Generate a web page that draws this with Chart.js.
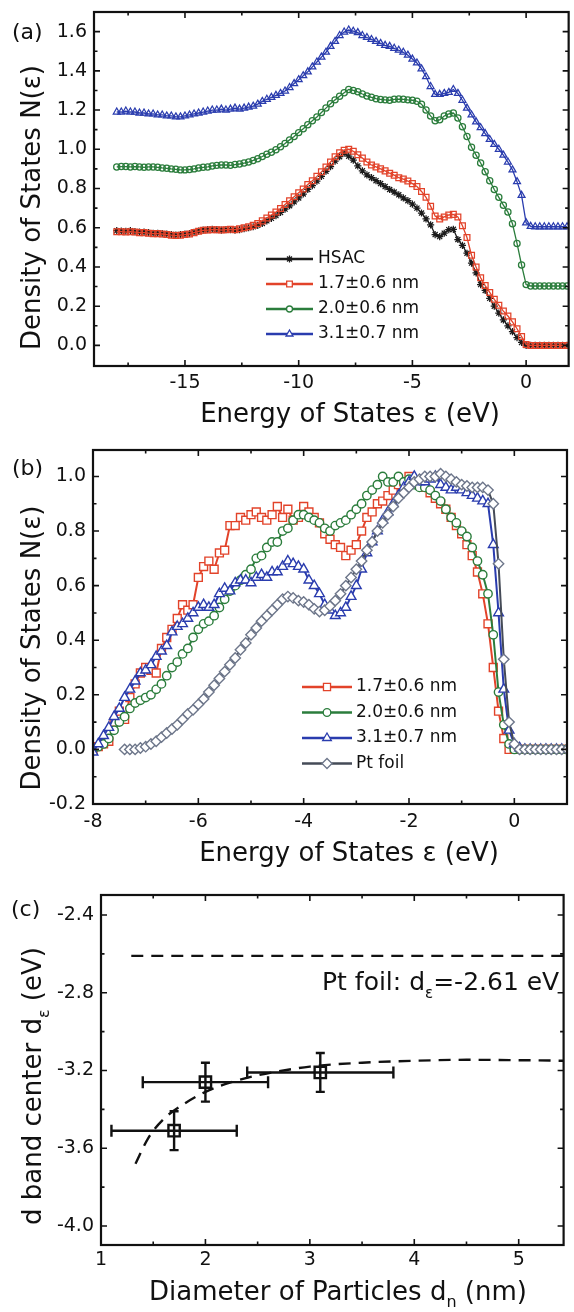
<!DOCTYPE html>
<html>
<head>
<meta charset="utf-8">
<script src="https://cdn.jsdelivr.net/npm/chart.js@4.4.1/dist/chart.umd.min.js"></script>
<style>
  html, body { margin: 0; padding: 0; background: #fff; }
  #wrap { position: relative; width: 574px; height: 1312px; }
  .panel { position: absolute; left: 0; width: 574px; }
  .panel canvas { display: block; }
</style>
</head>
<body>
<div id="wrap">
  <div class="panel" style="top:0;height:440px"><canvas id="chartA"></canvas></div>
  <div class="panel" style="top:440px;height:440px"><canvas id="chartB"></canvas></div>
  <div class="panel" style="top:880px;height:432px"><canvas id="chartC"></canvas></div>
</div>
<script>
// ---- panel (a): normalised d-DOS, curves offset by 0.3 ----
const energyA = [
  -18, -17.8, -17.6, -17.4, -17.2, -17, -16.8, -16.6, -16.4, -16.2,
  -16, -15.8, -15.6, -15.4, -15.2, -15, -14.8, -14.6, -14.4, -14.2,
  -14, -13.8, -13.6, -13.4, -13.2, -13, -12.8, -12.6, -12.4, -12.2,
  -12, -11.8, -11.6, -11.4, -11.2, -11, -10.8, -10.6, -10.4, -10.2,
  -10, -9.8, -9.6, -9.4, -9.2, -9, -8.8, -8.6, -8.4, -8.2,
  -8, -7.8, -7.6, -7.4, -7.2, -7, -6.8, -6.6, -6.4, -6.2,
  -6, -5.8, -5.6, -5.4, -5.2, -5, -4.8, -4.6, -4.4, -4.2,
  -4, -3.8, -3.6, -3.4, -3.2, -3, -2.8, -2.6, -2.4, -2.2,
  -2, -1.8, -1.6, -1.4, -1.2, -1, -0.8, -0.6, -0.4, -0.2,
  0, 0.2, 0.4, 0.6, 0.8, 1, 1.2, 1.4, 1.6, 1.8
];
const hsacA = [
  0.585, 0.583, 0.582, 0.585, 0.58, 0.578, 0.578, 0.575, 0.572, 0.572,
  0.57, 0.568, 0.565, 0.562, 0.565, 0.567, 0.57, 0.577, 0.583, 0.588,
  0.59, 0.592, 0.59, 0.588, 0.59, 0.59, 0.588, 0.59, 0.595, 0.6,
  0.605, 0.612, 0.622, 0.635, 0.648, 0.662, 0.678, 0.695, 0.712, 0.732,
  0.752, 0.772, 0.795, 0.815, 0.838, 0.862, 0.888, 0.912, 0.94, 0.962,
  0.98, 0.965, 0.945, 0.915, 0.89, 0.87, 0.855, 0.84, 0.825, 0.81,
  0.795, 0.782, 0.768, 0.752, 0.738, 0.72, 0.7, 0.675, 0.645, 0.615,
  0.565, 0.555, 0.572, 0.59, 0.592, 0.54, 0.51, 0.47, 0.42, 0.37,
  0.31, 0.28, 0.24, 0.2, 0.165, 0.13, 0.1, 0.07, 0.04, 0.015,
  0, 0, 0, 0, 0, 0, 0, 0, 0, 0
];
const nm17A = [
  0.58, 0.58, 0.578, 0.58, 0.578, 0.575, 0.575, 0.572, 0.57, 0.57,
  0.568, 0.565, 0.562, 0.56, 0.562, 0.565, 0.568, 0.575, 0.582, 0.587,
  0.588, 0.59, 0.59, 0.588, 0.59, 0.592, 0.59, 0.595, 0.6, 0.605,
  0.612, 0.622, 0.635, 0.65, 0.665, 0.68, 0.698, 0.718, 0.738, 0.758,
  0.778, 0.798, 0.82, 0.84, 0.862, 0.885, 0.91, 0.935, 0.962, 0.982,
  0.995, 1.0, 0.99, 0.972, 0.955, 0.935, 0.92, 0.91, 0.9, 0.89,
  0.878, 0.868, 0.855, 0.848, 0.838, 0.825, 0.81, 0.785, 0.755, 0.71,
  0.66, 0.645, 0.655, 0.665, 0.668, 0.655, 0.61, 0.55, 0.46, 0.4,
  0.345, 0.305, 0.27, 0.235, 0.205, 0.175, 0.15, 0.12, 0.085, 0.045,
  0.005, 0, 0, 0, 0, 0, 0, 0, 0, 0
];
const nm20A = [
  0.91, 0.912, 0.912, 0.91, 0.912, 0.91, 0.908, 0.91, 0.91, 0.908,
  0.905, 0.903, 0.9, 0.898, 0.895, 0.895, 0.897, 0.9, 0.905, 0.908,
  0.91, 0.915, 0.918, 0.92, 0.92, 0.918, 0.922, 0.925, 0.93, 0.935,
  0.943, 0.952, 0.963, 0.975, 0.985, 0.998, 1.013, 1.03, 1.048, 1.065,
  1.085, 1.105, 1.125, 1.145, 1.165, 1.188, 1.21, 1.232, 1.252, 1.27,
  1.288, 1.305, 1.3, 1.293, 1.282, 1.272, 1.265, 1.258, 1.254, 1.252,
  1.25, 1.255, 1.256, 1.255, 1.252, 1.25, 1.245, 1.23, 1.2, 1.17,
  1.145, 1.15, 1.17, 1.18, 1.185, 1.16, 1.115, 1.065, 1.01, 0.97,
  0.93, 0.885, 0.84, 0.795, 0.755, 0.715, 0.68, 0.62, 0.52, 0.41,
  0.31, 0.303, 0.303, 0.303, 0.303, 0.303, 0.303, 0.303, 0.303, 0.303
];
const nm31A = [
  1.19, 1.19, 1.195, 1.19, 1.19, 1.185, 1.185, 1.18, 1.18, 1.175,
  1.175, 1.17, 1.17, 1.165, 1.165, 1.17, 1.175, 1.18, 1.185, 1.19,
  1.195, 1.2, 1.2, 1.205, 1.2, 1.205, 1.21, 1.205, 1.21, 1.215,
  1.22, 1.23, 1.244, 1.255, 1.265, 1.275, 1.285, 1.297, 1.315, 1.335,
  1.355, 1.375, 1.395, 1.42, 1.445, 1.47, 1.495, 1.525, 1.55, 1.58,
  1.598, 1.608, 1.602, 1.595, 1.58, 1.57, 1.56, 1.55, 1.54, 1.53,
  1.525, 1.515, 1.505, 1.495, 1.48, 1.46, 1.44, 1.41, 1.37, 1.32,
  1.28, 1.28, 1.285, 1.29, 1.305, 1.285, 1.25, 1.21, 1.175, 1.14,
  1.11, 1.08, 1.05, 1.025, 1.0, 0.97, 0.935, 0.895, 0.835, 0.765,
  0.625, 0.607, 0.605, 0.605, 0.605, 0.605, 0.605, 0.605, 0.605, 0.605
];
const aXMajor = [-15, -10, -5, 0];
const aXMinor = [-17.5, -12.5, -7.5, -2.5];
const aYMajor = [0, 0.2, 0.4, 0.6, 0.8, 1.0, 1.2, 1.4, 1.6];
const aYMinor = [0.1, 0.3, 0.5, 0.7, 0.9, 1.1, 1.3, 1.5];

// ---- panel (b): normalised d-DOS, no offset ----
const energyB = [
  -8, -7.9, -7.8, -7.7, -7.6, -7.5, -7.4, -7.3, -7.2, -7.1,
  -7, -6.9, -6.8, -6.7, -6.6, -6.5, -6.4, -6.3, -6.2, -6.1,
  -6, -5.9, -5.8, -5.7, -5.6, -5.5, -5.4, -5.3, -5.2, -5.1,
  -5, -4.9, -4.8, -4.7, -4.6, -4.5, -4.4, -4.3, -4.2, -4.1,
  -4, -3.9, -3.8, -3.7, -3.6, -3.5, -3.4, -3.3, -3.2, -3.1,
  -3, -2.9, -2.8, -2.7, -2.6, -2.5, -2.4, -2.3, -2.2, -2.1,
  -2, -1.9, -1.8, -1.7, -1.6, -1.5, -1.4, -1.3, -1.2, -1.1,
  -1, -0.9, -0.8, -0.7, -0.6, -0.5, -0.4, -0.3, -0.2, -0.1,
  0, 0.1, 0.2, 0.3, 0.4, 0.5, 0.6, 0.7, 0.8, 0.9, 1
];
const nm17B = [
  0.0, 0.01, 0.02, 0.03, 0.1, 0.14, 0.11, 0.19, 0.24, 0.28,
  0.3, 0.29, 0.28, 0.37, 0.41, 0.44, 0.48, 0.53, 0.51, 0.53,
  0.63, 0.67, 0.69, 0.66, 0.72, 0.73, 0.82, 0.82, 0.85, 0.84,
  0.86, 0.87, 0.85, 0.84, 0.86, 0.89, 0.85, 0.88, 0.84, 0.85,
  0.89, 0.87, 0.85, 0.83, 0.79, 0.77, 0.75, 0.74, 0.71, 0.73,
  0.75, 0.8, 0.85, 0.87, 0.9, 0.91, 0.93, 0.95, 0.97, 0.98,
  1.0, 0.98, 0.97, 0.96, 0.94, 0.92, 0.9, 0.88, 0.85, 0.82,
  0.79, 0.75, 0.71, 0.65, 0.57, 0.46, 0.3, 0.14, 0.04, 0.0,
  0, 0, 0, 0, 0, 0, 0, 0, 0, 0, 0
];
const nm20B = [
  0.0, 0.01, 0.02, 0.04, 0.07, 0.1, 0.12, 0.15, 0.17, 0.18,
  0.19, 0.2, 0.22, 0.24, 0.27, 0.3, 0.32, 0.35, 0.37, 0.41,
  0.44, 0.46, 0.47, 0.49, 0.52, 0.55, 0.58, 0.6, 0.62, 0.64,
  0.66, 0.7, 0.71, 0.74, 0.76, 0.76, 0.8, 0.81, 0.84, 0.86,
  0.86, 0.85, 0.84, 0.83, 0.81, 0.8, 0.82, 0.83, 0.84, 0.86,
  0.88, 0.9, 0.93, 0.95, 0.97, 1.0, 0.98, 0.98, 1.0, 0.98,
  0.99, 0.97, 0.96, 0.96, 0.95, 0.93, 0.91, 0.88, 0.85, 0.83,
  0.8, 0.78, 0.74, 0.69, 0.64, 0.57, 0.42, 0.21, 0.09, 0.02,
  0, 0, 0, 0, 0, 0, 0, 0, 0, 0, 0
];
const nm31B = [
  -0.01, 0.02, 0.05, 0.08, 0.12, 0.15, 0.19, 0.22, 0.25, 0.28,
  0.29, 0.31, 0.34, 0.36, 0.38, 0.43, 0.45, 0.46, 0.48, 0.5,
  0.52, 0.53, 0.52, 0.53, 0.57, 0.59, 0.58, 0.61, 0.62, 0.62,
  0.61, 0.63, 0.64, 0.63, 0.65, 0.65, 0.67, 0.69, 0.68, 0.67,
  0.66, 0.62, 0.6, 0.57, 0.53, 0.51, 0.49, 0.5, 0.52, 0.56,
  0.6, 0.66, 0.72, 0.76, 0.8, 0.84, 0.87, 0.9, 0.93, 0.96,
  0.98, 1.0, 0.98, 0.98, 0.99, 1.0, 0.97, 0.96, 0.95, 0.96,
  0.95, 0.94, 0.93, 0.92, 0.91, 0.9, 0.75, 0.5, 0.22, 0.07,
  0.02, 0.005, 0, 0, 0, 0, 0, 0, 0, 0, 0
];
const ptFoilB = [
  null, null, null, null, null, null, 0.0, 0.0, 0.0, 0.005,
  0.01, 0.02, 0.03, 0.045, 0.06, 0.075, 0.09, 0.11, 0.13, 0.145,
  0.165, 0.185, 0.21, 0.235, 0.26, 0.285, 0.31, 0.335, 0.365, 0.39,
  0.42, 0.445, 0.47, 0.49, 0.51, 0.53, 0.55, 0.56, 0.555, 0.545,
  0.54, 0.53, 0.515, 0.505, 0.51, 0.525, 0.545, 0.57, 0.6, 0.63,
  0.66, 0.69, 0.73, 0.76, 0.8, 0.83, 0.86, 0.89, 0.92, 0.94,
  0.96, 0.98, 0.99, 1.0, 1.0, 1.0, 1.01, 1.0, 0.99, 0.98,
  0.97, 0.965, 0.96, 0.96, 0.96, 0.95, 0.9, 0.68, 0.33, 0.1,
  0.02, 0, 0, 0, 0, 0, 0, 0, 0, 0, 0
];
const bXMajor = [-8, -6, -4, -2, 0];
const bXMinor = [-7, -5, -3, -1];
const bYMajor = [-0.2, 0, 0.2, 0.4, 0.6, 0.8, 1.0];
const bYMinor = [-0.1, 0.1, 0.3, 0.5, 0.7, 0.9];

// ---- panel (c): d band centre vs particle size ----
const diameterC = [1.7, 2.0, 3.1];
const dBandC = [-3.51, -3.26, -3.21];
const diameterErrC = [0.6, 0.6, 0.7];
const dBandErrC = [0.1, 0.1, 0.1];
const fitDiameterC = [1.33, 1.45, 1.6, 1.8, 2.0, 2.25, 2.5, 3.0, 3.5, 4.0, 4.5, 5.0, 5.45];
const fitDBandC = [-3.68, -3.55, -3.45, -3.37, -3.31, -3.26, -3.225, -3.18, -3.16, -3.15, -3.145, -3.147, -3.15];
const ptFoilXC = [1.29, 5.45];
const ptFoilYC = [-2.61, -2.61];
const cXMajor = [1, 2, 3, 4, 5];
const cXMinor = [1.5, 2.5, 3.5, 4.5];
const cYMajor = [-4.0, -3.6, -3.2, -2.8, -2.4];
const cYMinor = [-3.8, -3.4, -3.0, -2.6];

const FAMILY = '"DejaVu Sans", "Liberation Sans", Arial, sans-serif';
const INK = '#111';
const RED = '#e2432a', GREEN = '#2b7d3c', BLUE = '#2a3cae', BLACK = '#1b1b1b';
const PT_LINE = '#454b57', PT_MARK = '#6d768a';

function pts(xs, ys) { return xs.map((x, i) => ({ x, y: ys[i] })); }

function axis(min, max, major, pad, fmt, fit) {
  return {
    type: 'linear', min, max,
    grid: { display: false, drawTicks: false },
    border: { display: false },
    afterBuildTicks: s => { s.ticks = major.map(v => ({ value: v })); },
    afterFit: fit,
    ticks: { autoSkip: false, maxRotation: 0, padding: pad, color: INK, font: { family: FAMILY, size: 19 }, callback: fmt }
  };
}
const fitX = h => s => { s.height = h; s.paddingLeft = 0; s.paddingRight = 0; s.paddingTop = 0; s.paddingBottom = 0; };
const fitY = w => s => { s.width = w; s.paddingLeft = 0; s.paddingRight = 0; s.paddingTop = 0; s.paddingBottom = 0; };

// frame with inward ticks on all four sides
function framePlugin(xMajor, xMinor, yMajor, yMinor) {
  return {
    id: 'frame',
    afterDatasetsDraw(chart) {
      const { ctx, chartArea: a } = chart;
      const sx = chart.scales.x, sy = chart.scales.y;
      ctx.save();
      ctx.strokeStyle = INK;
      ctx.lineWidth = 1.6;
      const marks = (scale, vals, len) => vals.forEach(v => {
        const p = scale.getPixelForValue(v);
        ctx.beginPath();
        if (scale.isHorizontal()) {
          ctx.moveTo(p, a.bottom); ctx.lineTo(p, a.bottom - len);
          ctx.moveTo(p, a.top); ctx.lineTo(p, a.top + len);
        } else {
          ctx.moveTo(a.left, p); ctx.lineTo(a.left + len, p);
          ctx.moveTo(a.right, p); ctx.lineTo(a.right - len, p);
        }
        ctx.stroke();
      });
      marks(sx, xMajor, 6); marks(sx, xMinor, 3.5);
      marks(sy, yMajor, 6); marks(sy, yMinor, 3.5);
      ctx.lineWidth = 2.2;
      ctx.strokeRect(a.left, a.top, a.right - a.left, a.bottom - a.top);
      ctx.restore();
    }
  };
}

// text with optional subscripts: parts = ['abc', {sub: 'n'}, 'def']
function drawRich(ctx, it) {
  const size = it.size;
  const fontOf = p => (typeof p === 'string' ? size : Math.round(size * 0.6)) + 'px ' + FAMILY;
  ctx.save();
  ctx.translate(it.x, it.y);
  if (it.rotate) ctx.rotate(-Math.PI / 2);
  ctx.fillStyle = INK;
  ctx.textBaseline = 'alphabetic';
  ctx.textAlign = 'left';
  const widths = it.parts.map(p => { ctx.font = fontOf(p); return ctx.measureText(typeof p === 'string' ? p : p.sub).width; });
  let cx = it.align === 'left' ? 0 : -widths.reduce((s, w) => s + w, 0) / 2;
  it.parts.forEach((p, i) => {
    ctx.font = fontOf(p);
    if (typeof p === 'string') ctx.fillText(p, cx, 0);
    else ctx.fillText(p.sub, cx, size * 0.3);
    cx += widths[i];
  });
  ctx.restore();
}
function textPlugin(items) {
  return { id: 'texts', afterDraw(chart) { items.forEach(it => drawRich(chart.ctx, it)); } };
}

function keyPlugin(rows, x0, x1, tx, y0, dy) {
  return {
    id: 'keyBox',
    afterDraw(chart) {
      const ctx = chart.ctx;
      rows.forEach((r, i) => {
        const yy = y0 + i * dy;
        ctx.save();
        ctx.strokeStyle = r.line; ctx.lineWidth = 2.4;
        ctx.beginPath(); ctx.moveTo(x0, yy); ctx.lineTo(x1, yy); ctx.stroke();
        ctx.strokeStyle = r.mark; ctx.fillStyle = '#fff'; ctx.lineWidth = 1.3;
        Chart.helpers.drawPoint(ctx, { pointStyle: r.style, radius: r.radius, rotation: 0, borderWidth: 1.3 }, (x0 + x1) / 2, yy);
        ctx.fillStyle = INK; ctx.font = '17px ' + FAMILY; ctx.textBaseline = 'middle'; ctx.textAlign = 'left';
        ctx.fillText(r.label, tx, yy);
        ctx.restore();
      });
    }
  };
}

function errorBarPlugin() {
  return {
    id: 'errBars',
    afterDatasetsDraw(chart) {
      const ctx = chart.ctx, sx = chart.scales.x, sy = chart.scales.y;
      ctx.save();
      ctx.strokeStyle = INK; ctx.lineWidth = 2.4;
      diameterC.forEach((d, i) => {
        const px = sx.getPixelForValue(d), py = sy.getPixelForValue(dBandC[i]);
        const xl = sx.getPixelForValue(d - diameterErrC[i]), xr = sx.getPixelForValue(d + diameterErrC[i]);
        const yt = sy.getPixelForValue(dBandC[i] + dBandErrC[i]), yb = sy.getPixelForValue(dBandC[i] - dBandErrC[i]);
        ctx.beginPath();
        ctx.moveTo(xl, py); ctx.lineTo(xr, py);
        ctx.moveTo(xl, py - 6); ctx.lineTo(xl, py + 6);
        ctx.moveTo(xr, py - 6); ctx.lineTo(xr, py + 6);
        ctx.moveTo(px, yt); ctx.lineTo(px, yb);
        ctx.moveTo(px - 4.5, yt); ctx.lineTo(px + 4.5, yt);
        ctx.moveTo(px - 4.5, yb); ctx.lineTo(px + 4.5, yb);
        ctx.stroke();
      });
      ctx.restore();
    }
  };
}

function baseOptions(top, xScale, yScale) {
  return {
    responsive: true, maintainAspectRatio: false, animation: false, events: [],
    layout: { padding: { top: top, right: 1, left: 0, bottom: 0 } },
    plugins: { legend: { display: false }, tooltip: { enabled: false } },
    scales: { x: xScale, y: yScale }
  };
}

const fmt1 = v => v.toFixed(1);
const fmt0 = v => String(v);

// ---------- (a) ----------
function seriesA(vals, color, style, r) {
  return {
    data: pts(energyA, vals), showLine: true, borderColor: color, borderWidth: 1.3,
    pointStyle: style, pointRadius: r, pointBorderColor: color,
    pointBackgroundColor: 'rgba(255,255,255,0)', pointBorderWidth: 1.25
  };
}
new Chart(document.getElementById('chartA'), {
  type: 'scatter',
  data: {
    datasets: [
      seriesA(nm17A, RED, 'rect', 4.1),
      seriesA(hsacA, BLACK, 'star', 3.6),
      seriesA(nm20A, GREEN, 'circle', 3.1),
      seriesA(nm31A, BLUE, 'triangle', 4.0)
    ]
  },
  options: baseOptions(12,
    axis(-19, 1.87, aXMajor, 6, fmt0, fitX(74)),
    axis(-0.105, 1.7, aYMajor, 7, fmt1, fitY(94))),
  plugins: [
    framePlugin(aXMajor, aXMinor, aYMajor, aYMinor),
    keyPlugin([
      { label: 'HSAC', line: BLACK, mark: BLACK, style: 'star', radius: 3.5 },
      { label: '1.7\u00B10.6 nm', line: RED, mark: RED, style: 'rect', radius: 4 },
      { label: '2.0\u00B10.6 nm', line: GREEN, mark: GREEN, style: 'circle', radius: 3 },
      { label: '3.1\u00B10.7 nm', line: BLUE, mark: BLUE, style: 'triangle', radius: 4 }
    ], 266, 313, 318, 259, 25),
    textPlugin([
      { parts: ['(a)'], size: 22, x: 12, y: 39, align: 'left' },
      { parts: ['Energy of States \u03B5 (eV)'], size: 26, x: 350, y: 421.5 },
      { parts: ['Density of States N(\u03B5)'], size: 26, x: 40, y: 207.5, rotate: true }
    ])
  ]
});

// ---------- (b) ----------
function seriesB(vals, line, mark, style, r) {
  return {
    data: pts(energyB, vals), showLine: true, borderColor: line, borderWidth: 2,
    pointStyle: style, pointRadius: r, pointBorderColor: mark,
    pointBackgroundColor: '#fff', pointBorderWidth: 1.4
  };
}
new Chart(document.getElementById('chartB'), {
  type: 'scatter',
  data: {
    datasets: [
      seriesB(ptFoilB, PT_LINE, PT_MARK, 'rectRot', 5.2),
      seriesB(nm31B, BLUE, BLUE, 'triangle', 5.6),
      seriesB(nm20B, GREEN, GREEN, 'circle', 4.2),
      seriesB(nm17B, RED, RED, 'rect', 5.6)
    ]
  },
  options: baseOptions(10,
    axis(-8, 1, bXMajor, 7, fmt0, fitX(76)),
    axis(-0.2, 1.097, bYMajor, 7, fmt1, fitY(93))),
  plugins: [
    framePlugin(bXMajor, bXMinor, bYMajor, bYMinor),
    keyPlugin([
      { label: '1.7\u00B10.6 nm', line: RED, mark: RED, style: 'rect', radius: 5 },
      { label: '2.0\u00B10.6 nm', line: GREEN, mark: GREEN, style: 'circle', radius: 3.8 },
      { label: '3.1\u00B10.7 nm', line: BLUE, mark: BLUE, style: 'triangle', radius: 5 },
      { label: 'Pt foil', line: PT_LINE, mark: PT_MARK, style: 'rectRot', radius: 5 }
    ], 302, 352, 356, 247, 25.5),
    textPlugin([
      { parts: ['(b)'], size: 22, x: 12, y: 35, align: 'left' },
      { parts: ['Energy of States \u03B5 (eV)'], size: 26, x: 349, y: 420.5 },
      { parts: ['Density of States N(\u03B5)'], size: 26, x: 40, y: 208, rotate: true }
    ])
  ]
});

// ---------- (c) ----------
new Chart(document.getElementById('chartC'), {
  type: 'scatter',
  data: {
    datasets: [
      { data: pts(diameterC, dBandC), showLine: false, pointStyle: 'rect', pointRadius: 8,
        pointBorderColor: INK, pointBackgroundColor: 'rgba(255,255,255,0)', pointBorderWidth: 2.4 },
      { data: pts(ptFoilXC, ptFoilYC), showLine: true, borderColor: INK, borderWidth: 2.4,
        borderDash: [12, 8], pointRadius: 0 },
      { data: pts(fitDiameterC, fitDBandC), showLine: true, borderColor: INK, borderWidth: 2.4,
        borderDash: [12, 8], pointRadius: 0, tension: 0.4, cubicInterpolationMode: 'monotone' }
    ]
  },
  options: baseOptions(15,
    axis(1, 5.43, cXMajor, 4, fmt0, fitX(67)),
    axis(-4.098, -2.297, cYMajor, 7, fmt1, fitY(101))),
  plugins: [
    errorBarPlugin(),
    framePlugin(cXMajor, cXMinor, cYMajor, cYMinor),
    textPlugin([
      { parts: ['(c)'], size: 22, x: 11, y: 36, align: 'left' },
      { parts: ['Pt foil: d', { sub: '\u03B5' }, '=-2.61 eV'], size: 25, x: 322, y: 110, align: 'left' },
      { parts: ['Diameter of Particles d', { sub: 'n' }, ' (nm)'], size: 26, x: 338, y: 419.5 },
      { parts: ['d band center d', { sub: '\u03B5' }, ' (eV)'], size: 26, x: 41, y: 206, rotate: true }
    ])
  ]
});
</script>
</body>
</html>
